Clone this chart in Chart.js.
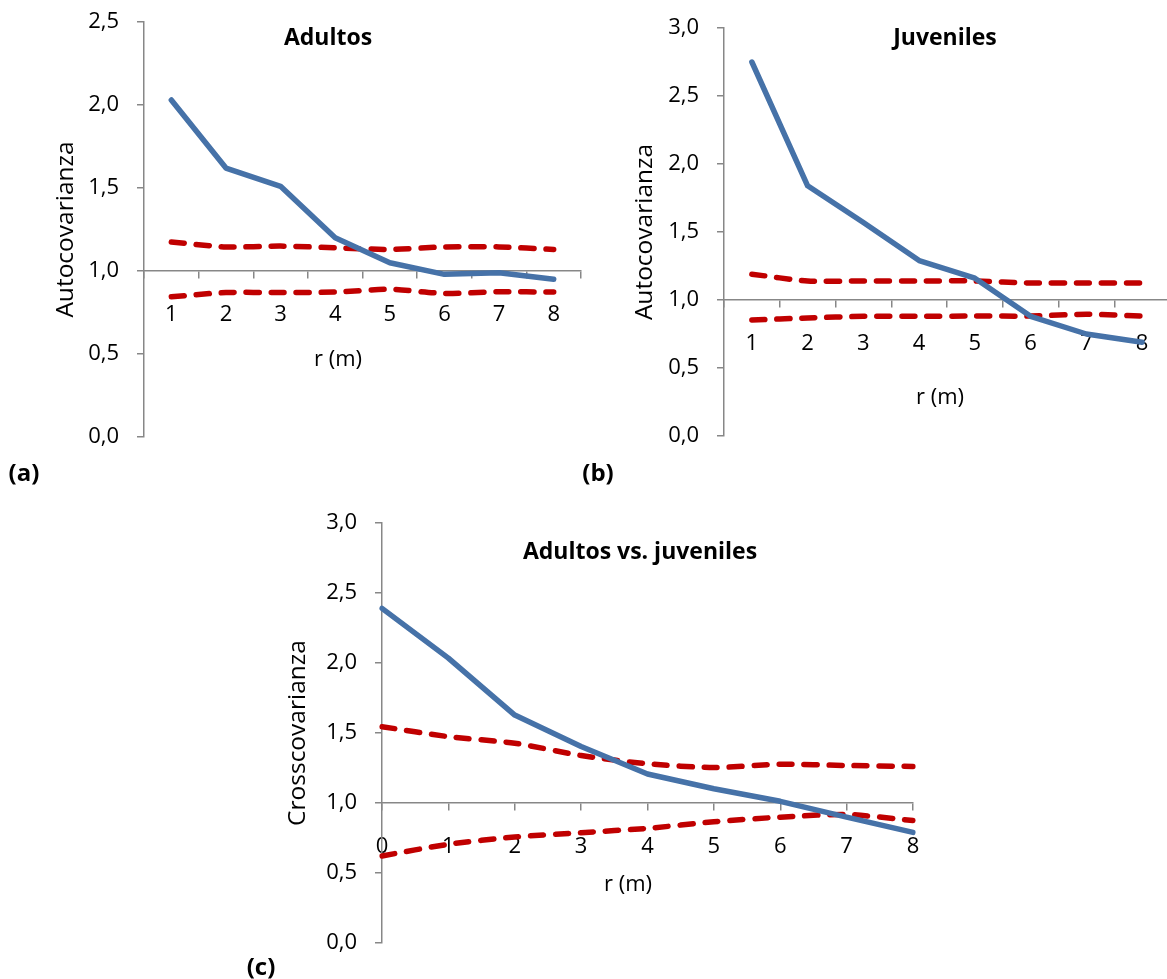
<!DOCTYPE html>
<html lang="es">
<head>
<meta charset="utf-8">
<title>Autocovarianza y crosscovarianza</title>
<script src="https://cdn.jsdelivr.net/npm/chart.js@4.4.1/dist/chart.umd.min.js"></script>
<style>
  html, body { margin: 0; padding: 0; background: #fff; overflow: hidden; }
  body { width: 1167px; height: 979px; position: relative; font-family: 'Open Sans', sans-serif; }
  .panel { position: absolute; }
  .texto { position: absolute; transform: translate(-50%, -50%); line-height: 1; white-space: nowrap; color: #000; }
  .titulo { font-weight: bold; font-size: 23px; }
  .eje { font-size: 22px; }
  .letra { font-weight: bold; font-size: 24px; }
</style>
</head>
<body>
<div class="panel" style="left:0;top:0;width:600px;height:457px"><canvas id="graficoA"></canvas></div>
<div class="panel" style="left:580px;top:0;width:610px;height:456px"><canvas id="graficoB"></canvas></div>
<div class="panel" style="left:230px;top:500px;width:700px;height:463px"><canvas id="graficoC"></canvas></div>

<div class="texto titulo" style="left:328px;top:36px">Adultos</div>
<div class="texto titulo" style="left:945px;top:36px">Juveniles</div>
<div class="texto titulo" style="left:640px;top:550px">Adultos vs. juveniles</div>

<div class="texto eje" style="left:338px;top:357px">r (m)</div>
<div class="texto eje" style="left:940px;top:395px">r (m)</div>
<div class="texto eje" style="left:628px;top:882px">r (m)</div>

<div class="texto letra" style="left:24px;top:472px">(a)</div>
<div class="texto letra" style="left:598px;top:472px">(b)</div>
<div class="texto letra" style="left:261px;top:966px">(c)</div>

<script>
// distancias r (m)
const distancias = ['1', '2', '3', '4', '5', '6', '7', '8'];
const distanciasCruzadas = ['0', '1', '2', '3', '4', '5', '6', '7', '8'];

// (a) adultos
const adultos = [2.03, 1.62, 1.51, 1.20, 1.05, 0.98, 0.99, 0.95];
const adultosSup = [1.175, 1.145, 1.15, 1.14, 1.13, 1.145, 1.145, 1.13];
const adultosInf = [0.845, 0.87, 0.87, 0.873, 0.89, 0.865, 0.875, 0.873];

// (b) juveniles
const juveniles = [2.75, 1.84, 1.57, 1.29, 1.16, 0.88, 0.75, 0.69];
const juvenilesSup = [1.19, 1.14, 1.14, 1.14, 1.14, 1.125, 1.125, 1.125];
const juvenilesInf = [0.853, 0.868, 0.88, 0.88, 0.882, 0.882, 0.895, 0.882];

// (c) adultos vs. juveniles
const cruzada = [2.39, 2.035, 1.628, 1.403, 1.207, 1.102, 1.012, 0.899, 0.79];
const cruzadaSup = [1.545, 1.474, 1.427, 1.339, 1.28, 1.254, 1.277, 1.268, 1.261];
const cruzadaInf = [0.622, 0.705, 0.757, 0.788, 0.819, 0.866, 0.899, 0.918, 0.875];

const FUENTE = "'Open Sans', sans-serif";
const AZUL = '#4672a8';
const ROJO = '#c00000';
const GRIS = '#878787';

Chart.defaults.font.family = FUENTE;

function serieObservada(datos) {
    return {
        data: datos,
        borderColor: AZUL,
        borderWidth: 5.5,
        borderJoinStyle: 'round',
        borderCapStyle: 'round',
        pointRadius: 0,
        tension: 0
    };
}

function serieEnvolvente(datos) {
    return {
        data: datos,
        borderColor: ROJO,
        borderWidth: 5.5,
        borderDash: [13, 12],
        borderCapStyle: 'round',
        pointRadius: 0,
        tension: 0.25
    };
}

// sin relleno extra de las etiquetas: el área del gráfico la fija layout.padding
function sinRelleno(escala) {
    escala.paddingTop = 0;
    escala.paddingBottom = 0;
    escala.paddingLeft = 0;
    escala.paddingRight = 0;
}

function crearGrafico(id, etiquetas, series, op) {
    const ctx = document.getElementById(id).getContext('2d');
    return new Chart(ctx, {
        type: 'line',
        data: { labels: etiquetas, datasets: series },
        options: {
            responsive: true,
            maintainAspectRatio: false,
            animation: false,
            layout: { padding: op.padding },
            plugins: { legend: { display: false }, tooltip: { enabled: false } },
            scales: {
                x: {
                    position: { y: 1 },
                    offset: op.offset,
                    grid: { offset: op.offset, drawOnChartArea: false, tickLength: 7, color: GRIS, lineWidth: 1.5 },
                    border: { color: GRIS, width: 1.5 },
                    ticks: { color: '#000', font: { size: 22 }, padding: 24, maxRotation: 0, autoSkip: false },
                    afterFit: (escala) => {
                        escala.height = 0;
                        sinRelleno(escala);
                    }
                },
                y: {
                    min: 0,
                    max: op.max,
                    grid: { drawOnChartArea: false, tickLength: 7, color: GRIS, lineWidth: 1.5 },
                    border: { color: GRIS, width: 1.5 },
                    ticks: {
                        stepSize: 0.5,
                        padding: 18,
                        color: '#000',
                        font: { size: 22 },
                        callback: (v) => v.toFixed(1).replace('.', ',')
                    },
                    title: {
                        display: true,
                        text: op.tituloY,
                        color: '#000',
                        font: { size: 24.5 },
                        padding: { top: op.margenTitulo, bottom: 0 }
                    },
                    afterFit: (escala) => {
                        escala.width = op.anchoEje;
                        sinRelleno(escala);
                    }
                }
            }
        }
    });
}

crearGrafico('graficoA', distancias,
    [serieObservada(adultos), serieEnvolvente(adultosSup), serieEnvolvente(adultosInf)],
    { max: 2.5, offset: true, anchoEje: 144, margenTitulo: 51, tituloY: 'Autocovarianza',
      padding: { top: 22, right: 19, bottom: 20, left: 0 } });

crearGrafico('graficoB', distancias,
    [serieObservada(juveniles), serieEnvolvente(juvenilesSup), serieEnvolvente(juvenilesInf)],
    { max: 3, offset: true, anchoEje: 144, margenTitulo: 50, tituloY: 'Autocovarianza',
      padding: { top: 28, right: 20, bottom: 20, left: 0 } });

crearGrafico('graficoC', distanciasCruzadas,
    [serieObservada(cruzada), serieEnvolvente(cruzadaSup), serieEnvolvente(cruzadaInf)],
    { max: 3, offset: false, anchoEje: 152, margenTitulo: 53, tituloY: 'Crosscovarianza',
      padding: { top: 23, right: 17, bottom: 20, left: 0 } });
</script>
</body>
</html>
